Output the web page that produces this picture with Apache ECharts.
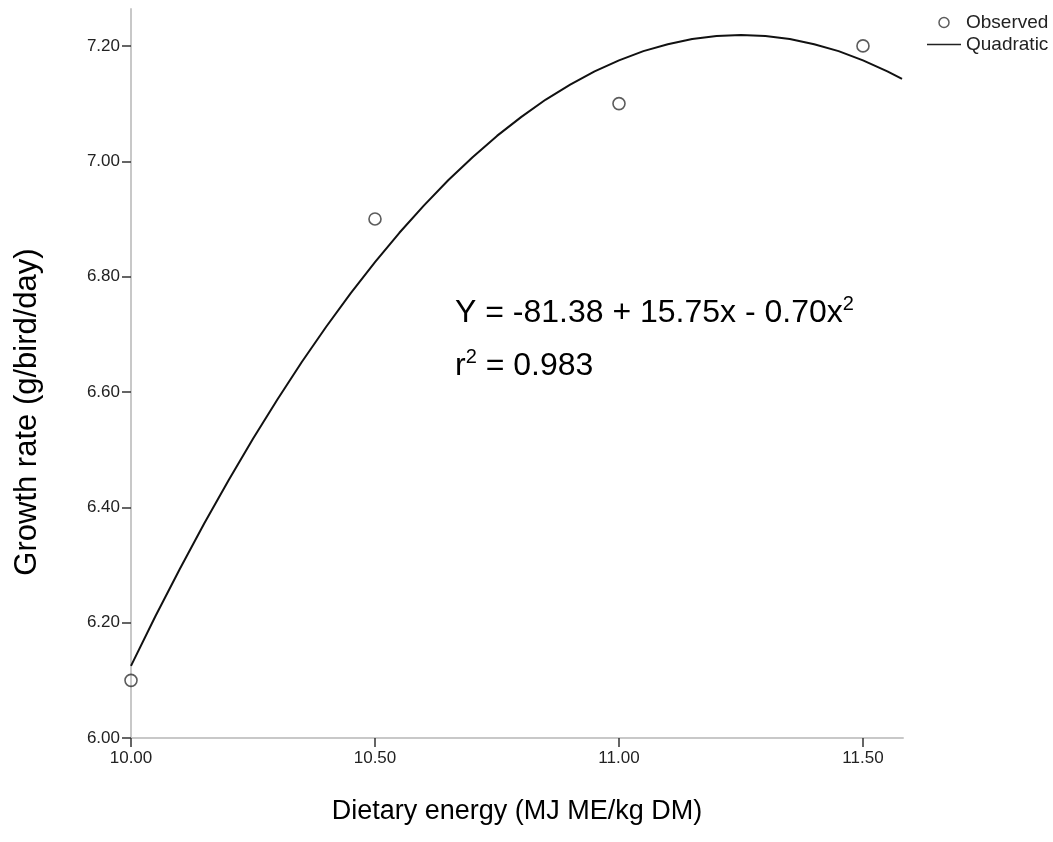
<!DOCTYPE html>
<html>
<head>
<meta charset="utf-8">
<script src="https://cdn.jsdelivr.net/npm/echarts@6/dist/echarts.min.js"></script>
<style>
html,body{margin:0;padding:0;background:#fff;}
#chart{width:1053px;height:842px;}
</style>
</head>
<body>
<div id="chart"></div>
<script>
// Observed data points
var observedX = [10.0, 10.5, 11.0, 11.5];
var observedY = [6.10, 6.90, 7.10, 7.20];
// Quadratic fit curve
var curveX = [10.00, 10.05, 10.10, 10.15, 10.20, 10.25, 10.30, 10.35, 10.40, 10.45, 10.50, 10.55, 10.60, 10.65, 10.70, 10.75,
              10.80, 10.85, 10.90, 10.95, 11.00, 11.05, 11.10, 11.15, 11.20, 11.25, 11.30, 11.35, 11.40, 11.45, 11.50, 11.55, 11.58];
var curveY = [6.125, 6.211, 6.293, 6.372, 6.447, 6.519, 6.587, 6.652, 6.713, 6.771, 6.825, 6.876, 6.923, 6.967, 7.007, 7.044,
              7.077, 7.107, 7.133, 7.156, 7.175, 7.191, 7.203, 7.212, 7.217, 7.219, 7.217, 7.212, 7.203, 7.191, 7.175, 7.156, 7.143];
// Tick labels
var xTicks = [10.0, 10.5, 11.0, 11.5];
var yTicks = [6.0, 6.2, 6.4, 6.6, 6.8, 7.0, 7.2];

var FONT = 'Liberation Sans, Arial, sans-serif';
var chart = echarts.init(document.getElementById('chart'), null, {renderer: 'canvas'});

function pairs(xs, ys) { return xs.map(function (x, i) { return [x, ys[i]]; }); }

var option = {
  backgroundColor: '#ffffff',
  animation: false,
  grid: {left: 131, right: 150, top: 9, bottom: 104, containLabel: false},
  xAxis: {
    type: 'value', min: 10.0, max: 11.582,
    name: 'Dietary energy (MJ ME/kg DM)', nameLocation: 'middle', nameGap: 60,
    nameTextStyle: {fontFamily: FONT, fontSize: 27, color: '#000'},
    axisLine: {show: true, onZero: false, lineStyle: {color: '#c8c8c8', width: 2}},
    axisTick: {show: true, length: 9, customValues: xTicks, lineStyle: {color: '#333', width: 1.5}},
    axisLabel: {customValues: xTicks, margin: 12, fontFamily: FONT, fontSize: 17, color: '#222',
      formatter: function (v) { return v.toFixed(2); }},
    splitLine: {show: false}
  },
  yAxis: {
    type: 'value', min: 6.0, max: 7.264,
    axisLine: {show: true, onZero: false, lineStyle: {color: '#c8c8c8', width: 2}},
    axisTick: {show: true, length: 9, customValues: yTicks, lineStyle: {color: '#333', width: 1.5}},
    axisLabel: {customValues: yTicks, margin: 11, fontFamily: FONT, fontSize: 17, color: '#222',
      formatter: function (v) { return v.toFixed(2); }},
    splitLine: {show: false}
  },
  legend: {
    orient: 'vertical', left: 922, top: 8, itemGap: 3, itemWidth: 34, itemHeight: 10,
    textStyle: {fontFamily: FONT, fontSize: 19, color: '#222'},
    data: [
      {name: 'Observed', icon: 'circle', itemStyle: {color: '#fff', borderColor: '#333', borderWidth: 1.5}},
      {name: 'Quadratic', icon: 'path://M0,0 L40,0 L40,2 L0,2 Z', itemStyle: {color: '#222'}}
    ]
  },
  series: [
    {
      name: 'Quadratic', type: 'line', data: pairs(curveX, curveY), smooth: false,
      showSymbol: false, symbol: 'none', z: 2,
      lineStyle: {color: '#111', width: 2}, itemStyle: {color: '#111'}
    },
    {
      name: 'Observed', type: 'scatter', data: pairs(observedX, observedY),
      symbol: 'circle', symbolSize: 12, z: 3,
      itemStyle: {color: 'rgba(255,255,255,0)', borderColor: '#333', borderWidth: 1.6}
    }
  ],
  graphic: [
    {
      type: 'text', x: 27, y: 412, rotation: Math.PI / 2,
      style: {text: 'Growth rate (g/bird/day)', fontFamily: FONT, fontSize: 31, fill: '#000',
        align: 'center', verticalAlign: 'middle'}
    },
    {
      type: 'text', x: 455, y: 313,
      style: {
        text: '{m|Y = -81.38 + 15.75x - 0.70x}{s|2}',
        verticalAlign: 'middle',
        rich: {
          m: {fontFamily: FONT, fontSize: 32, fill: '#000', lineHeight: 38},
          s: {fontFamily: FONT, fontSize: 20, fill: '#000', verticalAlign: 'top', lineHeight: 38}
        }
      }
    },
    {
      type: 'text', x: 455, y: 366,
      style: {
        text: '{m|r}{s|2}{m| = 0.983}',
        verticalAlign: 'middle',
        rich: {
          m: {fontFamily: FONT, fontSize: 32, fill: '#000', lineHeight: 38},
          s: {fontFamily: FONT, fontSize: 20, fill: '#000', verticalAlign: 'top', lineHeight: 38}
        }
      }
    }
  ]
};
chart.setOption(option);
</script>
</body>
</html>
